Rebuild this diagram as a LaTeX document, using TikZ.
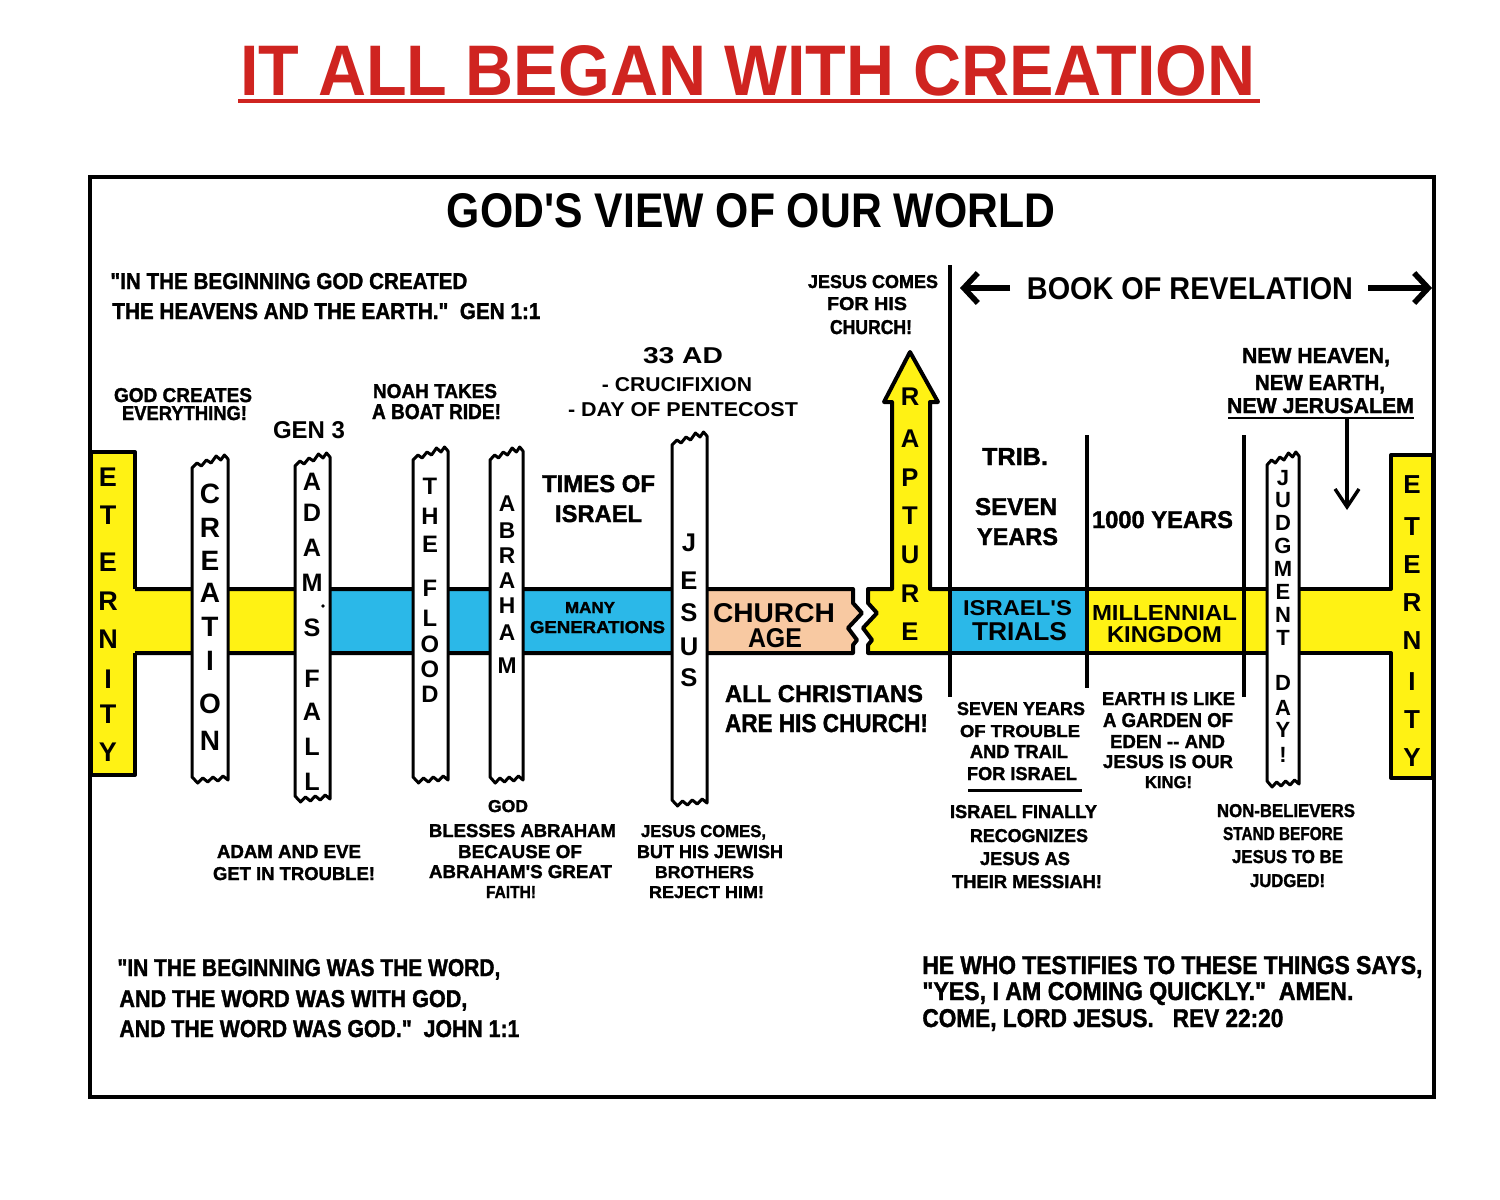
\documentclass[tikz,border=0pt]{standalone}
\usepackage{fontspec}
\setmainfont{Liberation Sans}
\newfontfamily\heavy[FakeBold=1.6]{Liberation Sans Bold}
\usepackage{graphicx}
\usetikzlibrary{arrows.meta}
\definecolor{ylw}{HTML}{FFF214}
\definecolor{blu}{HTML}{2BB8E8}
\definecolor{pch}{HTML}{F8C9A2}
\definecolor{ttl}{HTML}{CF2420}
\newlength\U \setlength\U{0.5pt}
\newcommand\fitbox[3]{\resizebox{#1\U}{#2\U}{#3}}
\newcommand\txtline[6]{\node[txt,anchor=base] (#1) at (#2,#3) {\fitbox{#4}{#5}{#6}};}
\newcommand\txtlinew[6]{\node[txt,anchor=base west] (#1) at (#2,#3) {\fitbox{#4}{#5}{#6}};}
\newcommand\lbl[6]{\node[lbltxt,anchor=base] (#1) at (#2,#3) {\fitbox{#4}{#5}{#6}};}
\newcommand\lblw[6]{\node[lbltxt,anchor=base west] (#1) at (#2,#3) {\fitbox{#4}{#5}{#6}};}
\newcommand\pillar[4]{%
 \filldraw[pil] ({#1},{#4-6}) -- ({#1},{#3+13})
   -- ({#1+0.14*(#2-#1)},{#3+8}) -- ({#1+0.26*(#2-#1)},{#3+11}) -- ({#1+0.40*(#2-#1)},{#3+5})
   -- ({#1+0.53*(#2-#1)},{#3+8}) -- ({#1+0.67*(#2-#1)},{#3+1}) -- ({#1+0.80*(#2-#1)},{#3+5})
   -- ({#1+0.90*(#2-#1)},{#3}) -- ({#2},{#3+4})
   -- ({#2},{#4-3}) -- ({#1+0.86*(#2-#1)},{#4-7}) -- ({#1+0.72*(#2-#1)},{#4-2}) -- ({#1+0.58*(#2-#1)},{#4-6})
   -- ({#1+0.44*(#2-#1)},{#4-1}) -- ({#1+0.30*(#2-#1)},{#4-5}) -- ({#1+0.16*(#2-#1)},{#4}) -- cycle;}
\newcommand\vword[5]{%
  \foreach \l/\yy [count=\i] in {#5} {\node[vletter={#3}, anchor=base] (#1\i) at ({#2},{\yy+#4}) {\l};}}
\begin{document}
\begin{tikzpicture}[x=0.5pt,y=-0.5pt,
  txt/.style={inner sep=0pt, font=\bfseries},
  lbltxt/.style={inner sep=0pt, font=\heavy},
  vletter/.style={inner sep=0pt, font=\bfseries\fontsize{#1pt}{#1pt}\selectfont},
  pil/.style={fill=white, draw=black, line width=1.5pt, line join=round},
  bl/.style={draw=black, line width=2pt, line join=round},
  revarr/.style={line width=2.8pt, -{Straight Barb[length=7pt,width=15pt]}},
  downarr/.style={line width=1.7pt, -{Straight Barb[length=9pt,width=12pt]}}]
\useasboundingbox (0,0) rectangle (1500,1200);
\fill[white] (0,0) rectangle (1500,1200);

% band fills
\fill[ylw] (135,589) rectangle (305,653);
\fill[blu] (320,589) rectangle (680,653);
\fill[pch] (700,589) -- (853,589) -- (853,603) -- (862,613) -- (848,628) -- (857,640) -- (853,645) -- (853,653) -- (700,653) -- cycle;
\fill[blu] (950,589) rectangle (1087,653);
\fill[ylw] (1087,589) rectangle (1391,653);
\fill[ylw] (91,452) rectangle (135,775);
\fill[ylw] (1391,455) rectangle (1433,778);

% rapture arrow
\filldraw[fill=ylw, bl] (950,589) -- (930,589) -- (930,402) -- (938,402) -- (910,352) -- (884,402) -- (892,402) -- (892,589) -- (868,589) -- (868,603) -- (877,613) -- (863,628) -- (872,640) -- (868,645) -- (868,653) -- (950,653);

% band outlines
\draw[bl] (135,589) -- (853,589) -- (853,603) -- (862,613) -- (848,628) -- (857,640) -- (853,645) -- (853,653) -- (135,653);
\draw[bl] (950,589) -- (1391,589) -- (1391,455) -- (1433,455) -- (1433,778) -- (1391,778) -- (1391,653) -- (950,653);
\draw[bl] (135,589) -- (135,452) -- (91,452) -- (91,775) -- (135,775) -- (135,653);

% vertical dividers
\draw[bl] (950,265) -- (950,697);
\draw[bl] (1087,435) -- (1087,688);
\draw[bl] (1244,435) -- (1244,697);

% pillars
\pillar{192}{228}{455}{783}
\pillar{295}{330}{453}{802}
\pillar{413}{448}{447}{783}
\pillar{490}{523}{447}{783}
\pillar{672}{707}{432}{806}
\pillar{1267}{1299}{452}{787}

% frame
\draw[line width=1.8pt] (90,177) rectangle (1434,1097);

% vertical words
\vword{etl}{108}{13.5}{9.5}{E/477,T/515,E/562,R/601,N/639,I/679,T/714,Y/752}
\vword{etr}{1412}{13}{9}{E/484,T/526,E/564,R/602,N/640,I/681,T/719,Y/757}
\vword{cre}{210}{14}{10}{C/493,R/527,E/560,A/592,T/626,I/660,O/703,N/740}
\vword{adf}{312}{12.6}{9}{A/481,D/512,A/547,M/582,S/627,F/678,A/711,L/746,L/781}
\fill (323,606) circle (1.8);
\vword{fld}{430}{11.9}{8.5}{T/486,H/516,E/544,F/588,L/618,O/644,O/669,D/694}
\vword{abr}{507}{11.4}{8}{A/503,B/530,R/555,A/580,H/605,A/632,M/665}
\vword{jes}{689}{12.8}{9}{J/542,E/580,S/612,U/646,S/677}
\vword{rap}{910}{12.8}{9}{R/396,A/438,P/477,T/515,U/554,R/593,E/631}
\vword{jud}{1283}{11}{7.5}{J/478,U/500,D/523,G/546,M/569,E/592,N/615,T/638,D/683,A/708,Y/730,!/755}

% title
\txtline{title}{748}{95}{1015}{50}{\color{ttl}IT ALL BEGAN WITH CREATION}
\draw[ttl, line width=2pt] (238,101) -- (1260,101);
\txtline{gv}{751}{227}{608}{34}{GOD\textquotesingle S VIEW OF OUR WORLD}

% top texts
\lblw{q1a}{110}{289}{357}{16}{"IN THE BEGINNING GOD CREATED}
\lblw{q1b}{112}{319}{428}{16}{THE HEAVENS AND THE EARTH."\ \ GEN 1:1}
\lbl{gc1}{183}{402}{138}{14}{GOD CREATES}
\lbl{gc2}{184.5}{420}{125}{14}{EVERYTHING!}
\txtline{gen3}{309}{438}{72}{17}{GEN 3}
\lbl{noah1}{435}{398}{124}{14}{NOAH TAKES}
\lbl{noah2}{436.5}{419}{129}{15}{A BOAT RIDE!}
\txtline{ad33}{683}{363}{80}{16}{33 AD}
\txtline{cru}{677}{391}{150}{14}{- CRUCIFIXION}
\txtline{pen}{683}{416}{230}{14}{- DAY OF PENTECOST}
\lbl{jc1}{873}{288}{130}{13}{JESUS COMES}
\lbl{jc2}{867}{310}{80}{13}{FOR HIS}
\lbl{jc3}{871}{334}{82}{14}{CHURCH!}
\txtline{book}{1190}{299}{326}{22}{BOOK OF REVELATION}
\coordinate (rvL1) at (1010,288); \coordinate (rvL2) at (960,288);
\draw[revarr] (rvL1) -- (rvL2);
\coordinate (rvR1) at (1368,288); \coordinate (rvR2) at (1432,288);
\draw[revarr] (rvR1) -- (rvR2);
\lbl{nh1}{1316}{363}{148}{15}{NEW HEAVEN,}
\lbl{nh2}{1320}{390}{130}{15}{NEW EARTH,}
\lbl{nh3}{1320.5}{413}{187}{15}{NEW JERUSALEM}
\draw[line width=1.3pt] (1228,418) -- (1414,418);
\coordinate (nj1) at (1347,418); \coordinate (nj2) at (1347,510);
\draw[downarr] (nj1) -- (nj2);

% middle texts
\lbl{toi1}{598.5}{492}{113}{17}{TIMES OF}
\lbl{toi2}{598.5}{522}{87}{17}{ISRAEL}
\lbl{many1}{590}{613}{50}{11}{MANY}
\lbl{many2}{597.5}{633}{135}{12}{GENERATIONS}
\txtline{ca1}{774}{622}{122}{19}{CHURCH}
\txtline{ca2}{775}{647}{54}{19}{AGE}
\lbl{ac1}{824}{702}{198}{17}{ALL CHRISTIANS}
\lbl{ac2}{826.5}{732}{203}{18}{ARE HIS CHURCH!}
\lbl{trib}{1015}{465}{66}{17}{TRIB.}
\lbl{sy1}{1016}{515}{82}{17}{SEVEN}
\lbl{sy2}{1017.5}{545}{81}{17}{YEARS}
\lbl{ky}{1162.5}{528}{141}{17}{1000 YEARS}
\txtline{it1}{1017.5}{615}{109}{15}{ISRAEL\textquotesingle S}
\txtline{it2}{1019.5}{640}{95}{18}{TRIALS}
\txtline{mk1}{1164.5}{620}{145}{15}{MILLENNIAL}
\txtline{mk2}{1164.5}{642}{115}{16}{KINGDOM}

% lower texts
\lbl{st1}{1021}{715}{128}{13}{SEVEN YEARS}
\lbl{st2}{1020}{737}{120}{12}{OF TROUBLE}
\lbl{st3}{1019}{758}{98}{13}{AND TRAIL}
\lbl{st4}{1022}{780}{110}{13}{FOR ISRAEL}
\draw[line width=1.5pt] (968,790) -- (1082,790);
\lbl{if1}{1023.5}{818}{147}{13}{ISRAEL FINALLY}
\lbl{if2}{1029}{842}{118}{13}{RECOGNIZES}
\lbl{if3}{1025}{865}{90}{13}{JESUS AS}
\lbl{if4}{1027}{888}{150}{13}{THEIR MESSIAH!}
\lbl{eg1}{1168.5}{705}{133}{13}{EARTH IS LIKE}
\lbl{eg2}{1168}{727}{130}{14}{A GARDEN OF}
\lbl{eg3}{1167.5}{748}{115}{13}{EDEN -{}- AND}
\lbl{eg4}{1168}{768}{130}{13}{JESUS IS OUR}
\lbl{eg5}{1168.5}{788}{47}{12}{KING!}
\lbl{nb1}{1286}{817}{138}{13}{NON-BELIEVERS}
\lbl{nb2}{1283}{840}{120}{13}{STAND BEFORE}
\lbl{nb3}{1287.5}{863}{111}{13}{JESUS TO BE}
\lbl{nb4}{1287.5}{887}{75}{13}{JUDGED!}
\lbl{ae1}{289}{858}{144}{13}{ADAM AND EVE}
\lbl{ae2}{294}{880}{162}{13}{GET IN TROUBLE!}
\lbl{gb1}{508}{812}{40}{12}{GOD}
\lbl{gb2}{522.5}{837}{187}{13}{BLESSES ABRAHAM}
\lbl{gb3}{520}{858}{124}{13}{BECAUSE OF}
\lbl{gb4}{520.5}{878}{183}{13}{ABRAHAM\textquotesingle S GREAT}
\lbl{gb5}{511}{898}{50}{12}{FAITH!}
\lbl{jr1}{703.5}{837}{125}{12}{JESUS COMES,}
\lbl{jr2}{710}{858}{146}{13}{BUT HIS JEWISH}
\lbl{jr3}{704.5}{878}{99}{12}{BROTHERS}
\lbl{jr4}{706.5}{898}{115}{12}{REJECT HIM!}

% bottom quotes
\lblw{q2a}{117}{976}{383}{17}{"IN THE BEGINNING WAS THE WORD,}
\lblw{q2b}{119}{1007}{348}{17}{AND THE WORD WAS WITH GOD,}
\lblw{q2c}{119}{1037}{400}{17}{AND THE WORD WAS GOD."\ \ JOHN 1:1}
\lblw{q3a}{922}{974}{500}{18}{HE WHO TESTIFIES TO THESE THINGS SAYS,}
\lblw{q3b}{922}{1000}{431}{18}{"YES, I AM COMING QUICKLY."\ \ AMEN.}
\lblw{q3c}{922}{1027}{361}{18}{COME, LORD JESUS.\ \ \ REV 22:20}
\end{tikzpicture}
\end{document}
